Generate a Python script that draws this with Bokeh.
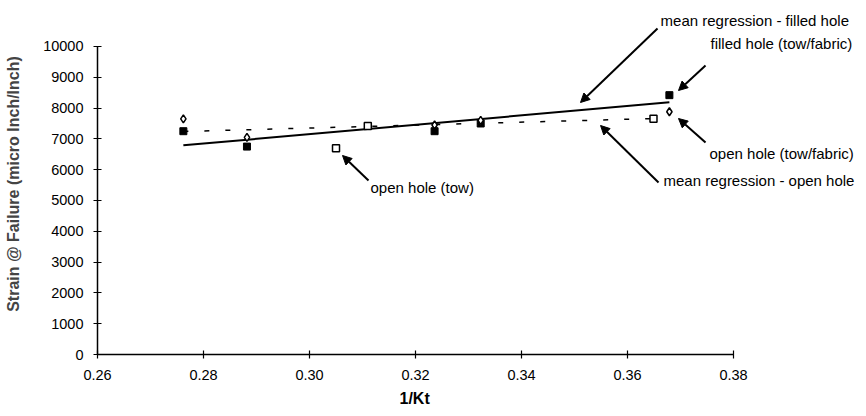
from bokeh.plotting import figure
from bokeh.models import Range1d, FixedTicker, PrintfTickFormatter, Label, Arrow, NormalHead, Title
from bokeh.embed import file_html
from bokeh.resources import INLINE

# ---- data ----
kt_filled = [0.2762, 0.2882, 0.3236, 0.3323, 0.3679]
strain_filled = [7250, 6750, 7250, 7500, 8420]

kt_open_tf = [0.2762, 0.2882, 0.3236, 0.3323, 0.3679]
strain_open_tf = [7650, 7050, 7450, 7600, 7880]

kt_open_tow = [0.3050, 0.3110, 0.3649]
strain_open_tow = [6700, 7420, 7650]

reg_filled_x = [0.2762, 0.3679]
reg_filled_y = [6790, 8190]
reg_open_x = [0.2762, 0.3649]
reg_open_y = [7240, 7660]

x_ticks = [0.26, 0.28, 0.30, 0.32, 0.34, 0.36, 0.38]
y_ticks = [0, 1000, 2000, 3000, 4000, 5000, 6000, 7000, 8000, 9000, 10000]

FONT = "Liberation Sans"

p = figure(width=858, height=416, output_backend="svg", toolbar_location=None,
           x_range=Range1d(0.26, 0.40358), y_range=Range1d(0, 11071),
           min_border_left=97, min_border_right=0, min_border_top=13, min_border_bottom=62)
p.outline_line_color = None
p.grid.visible = False
p.background_fill_color = "white"

for ax in (p.xaxis[0], p.yaxis[0]):
    ax.axis_line_color = "black"
    ax.axis_line_width = 1.5
    ax.major_tick_line_color = "black"
    ax.major_tick_line_width = 1.2
    ax.major_tick_in = 4
    ax.major_tick_out = 4
    ax.minor_tick_line_color = None
    ax.major_label_text_font = FONT
    ax.major_label_text_font_size = "14.5px"
    ax.major_label_text_color = "black"

p.xaxis[0].ticker = FixedTicker(ticks=x_ticks)
p.xaxis[0].formatter = PrintfTickFormatter(format="%.2f")
p.xaxis[0].bounds = (0.26, 0.38)
p.xaxis[0].major_label_standoff = 11
p.yaxis[0].ticker = FixedTicker(ticks=y_ticks)
p.yaxis[0].formatter = PrintfTickFormatter(format="%d")
p.yaxis[0].bounds = (0, 10000)
p.yaxis[0].major_label_standoff = 10
p.yaxis[0].axis_label = "Strain @ Failure (micro Inch/Inch)"
p.yaxis[0].axis_label_text_font = FONT
p.yaxis[0].axis_label_text_font_style = "bold"
p.yaxis[0].axis_label_text_font_size = "16px"
p.yaxis[0].axis_label_standoff = 18

# regression lines
p.line(reg_filled_x, reg_filled_y, line_color="black", line_width=2)
p.line(reg_open_x, reg_open_y, line_color="black", line_width=1.5, line_dash="5 16")

# markers
p.scatter(kt_filled, strain_filled, marker="square", size=7, fill_color="black", line_color="black")
p.scatter(kt_open_tf, strain_open_tf, marker="diamond", size=8, fill_color="white", line_color="black", line_width=1.5)
p.scatter(kt_open_tow, strain_open_tow, marker="square", size=7, fill_color="white", line_color="black", line_width=1.5)

# annotations
def note(text, x, y):
    p.add_layout(Label(x=x, y=y, text=text, text_font=FONT, text_font_size="15px",
                       text_baseline="middle", text_align="left", text_color="black"))

def arrow(x0, y0, x1, y1):
    p.add_layout(Arrow(x_start=x0, y_start=y0, x_end=x1, y_end=y1, line_width=2, line_color="black",
                       end=NormalHead(size=9, fill_color="black", line_color="black")))

note("mean regression - filled hole", 0.36623, 10844)
arrow(0.36566, 10584, 0.35113, 8182)
note("filled hole (tow/fabric)", 0.37566, 10097)
arrow(0.37472, 9383, 0.36962, 8571)
note("open hole (tow/fabric)", 0.37547, 6526)
arrow(0.37472, 6883, 0.36962, 7662)
note("mean regression - open hole", 0.36679, 5649)
arrow(0.36585, 5584, 0.35491, 7435)
note("open hole (tow)", 0.31151, 5422)
arrow(0.31113, 5649, 0.30623, 6461)

# x axis title, centred under the 0.26-0.38 axis
p.add_layout(Title(text="1/Kt", align="left", offset=302, standoff=11,
                   text_font=FONT, text_font_style="bold", text_font_size="16px",
                   text_color="black"), "below")

open("out.html", "w").write(file_html(p, INLINE))
